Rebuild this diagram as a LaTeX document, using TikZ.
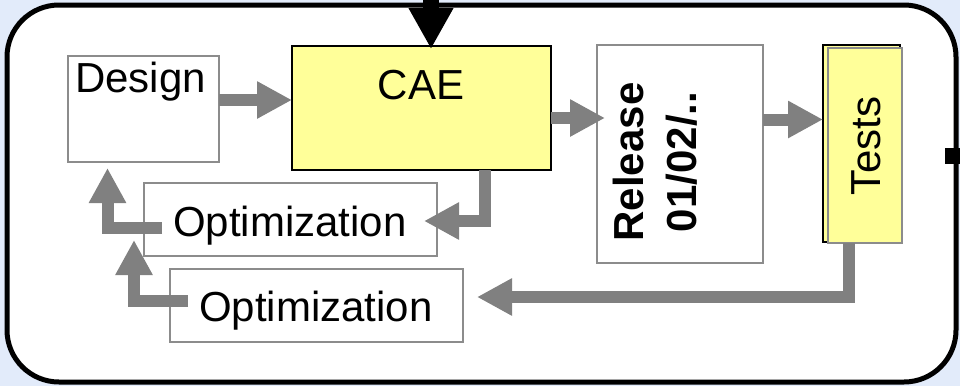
\documentclass[tikz,border=0pt]{standalone}
\usepackage{fontspec}
\setmainfont{Liberation Sans}
\usetikzlibrary{arrows.meta}
\definecolor{paleblue}{RGB}{226,235,250}
\definecolor{boxgray}{RGB}{140,140,140}
\definecolor{flowgray}{RGB}{128,128,128}
\definecolor{caeyellow}{RGB}{255,255,153}

\begin{document}
\begin{tikzpicture}[
    x=1pt, y=-1pt,% pixel grid, origin top left
    box/.style={draw=boxgray, line width=1.5pt, fill=white, inner sep=0pt, outer sep=0pt},
    label/.style={font=\fontsize{42}{53}\selectfont, inner sep=0pt},
    flow/.style={draw=flowgray, line width=12pt, line join=miter, -{Triangle[length=35pt,width=35pt]}}
    ]

    \useasboundingbox (0,0) rectangle (960,386);
    \fill[paleblue] (0,0) rectangle (960,386);
    \draw[line width=5pt, rounded corners=52pt, fill=white] (7,5) rectangle (956,382);
    \fill (945,148) rectangle (962,164);

    \node[box, minimum width=151pt, minimum height=106pt] (design) at (143.5,109) {};
    \node[box, draw=black, line width=2pt, fill=caeyellow, minimum width=259pt, minimum height=124pt] (cae) at (421.5,108) {};
    \node[box, minimum width=166pt, minimum height=218pt] (release) at (680,154) {};
    \node[box, draw=black, fill=caeyellow, minimum width=77pt, minimum height=197pt] (testsback) at (861.5,143.5) {};
    \node[box, fill=caeyellow, minimum width=74pt, minimum height=195pt] (tests) at (865,145.5) {};
    \node[box, minimum width=293pt, minimum height=73pt] (opt1) at (290.5,219.5) {};
    \node[box, minimum width=293pt, minimum height=73pt] (opt2) at (316.5,305.5) {};

    \node[label, anchor=base west] (designtext) at (75,92) {Design};
    \node[label, anchor=base] (caetext) at (421,99) {CAE};
    \node[label, rotate=90, align=center, font=\fontsize{42}{53}\selectfont\bfseries] (releasetext) at (655,162) {Release\\01/02/..};
    \node[label, rotate=90] (teststext) at (866,146) {Tests};
    \node[label, anchor=base] (opt1text) at (290,236) {Optimization};
    \node[label, anchor=base] (opt2text) at (316,321) {Optimization};

    \coordinate (feed) at (431,-1);
    \draw[line width=16pt, shorten >=-3pt, -{Triangle[length=41pt,width=42pt]}] (feed) -- (feed |- cae.north);

    \coordinate (d0) at ([yshift=9pt]design.east);
    \coordinate (c0) at ([yshift=-10pt]cae.east);
    \coordinate (r0) at ([yshift=34.5pt]release.east);
    \draw[flow] (d0) -- (d0 -| cae.west);
    \draw[flow, shorten >=-8pt] (c0) -- (c0 -| release.west);
    \draw[flow] (r0) -- (r0 -| testsback.west);

    \coordinate (c1) at ([xshift=63pt]cae.south);
    \coordinate (o1) at ([xshift=-13pt,yshift=-1.5pt]opt1.east);
    \draw[flow] (c1) |- (o1);
    \coordinate (t1) at ([xshift=-16pt]tests.south);
    \coordinate (o2) at ([xshift=14pt,yshift=8.5pt]opt2.east);
    \draw[flow] (t1) |- (o2);

    \coordinate (s1) at ([xshift=18pt,yshift=-8pt]opt1.west);
    \coordinate (d1) at ([xshift=39.5pt,yshift=-6pt]design.south west);
    \draw[flow] (s1) -| (d1);
    \coordinate (s2) at ([xshift=18pt,yshift=5pt]opt2.west);
    \coordinate (d2) at ([xshift=-10pt,yshift=16pt]opt1.south west);
    \draw[flow] (s2) -| (d2);

\end{tikzpicture}
\end{document}
